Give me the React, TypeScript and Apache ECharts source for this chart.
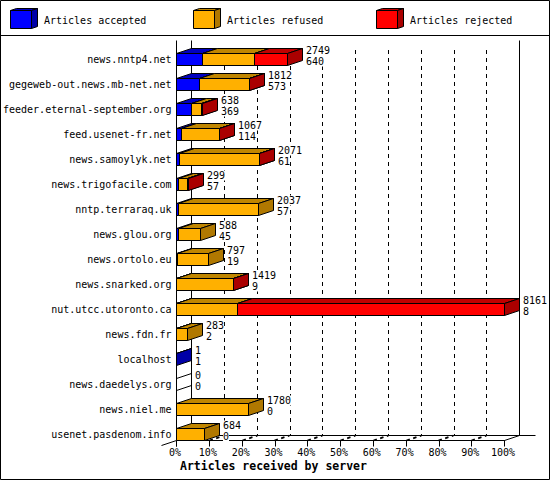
import React, { useEffect, useRef } from "react";
import * as echarts from "echarts";

const servers = [
  "news.nntp4.net", "gegeweb-out.news.mb-net.net", "feeder.eternal-september.org", "feed.usenet-fr.net",
  "news.samoylyk.net", "news.trigofacile.com", "nntp.terraraq.uk", "news.glou.org",
  "news.ortolo.eu", "news.snarked.org", "nut.utcc.utoronto.ca", "news.fdn.fr",
  "localhost", "news.daedelys.org", "news.niel.me", "usenet.pasdenom.info",
];
const totals = [2749, 1812, 638, 1067, 2071, 299, 2037, 588, 797, 1419, 8161, 283, 1, 0, 1780, 684];
const accepted = [640, 573, 369, 114, 61, 57, 57, 45, 19, 9, 8, 2, 1, 0, 0, 0];
const refused = [1288, 1234, 259, 945, 2000, 212, 1980, 543, 778, 1400, 1500, 281, 0, 0, 1780, 684];
const rejected = [821, 5, 10, 8, 10, 30, 0, 0, 0, 10, 6653, 0, 0, 0, 0, 0];
const percentTicks = [0, 10, 20, 30, 40, 50, 60, 70, 80, 90, 100];
const scaleMax = 8161;

const FONT = '"DejaVu Sans Mono", monospace';
const blue = { front: "#0000ff", top: "#0000c0", side: "#0000a8", name: "Articles accepted" };
const orange = { front: "#ffb000", top: "#c08600", side: "#b07800", name: "Articles refused" };
const red = { front: "#ff0000", top: "#c00000", side: "#aa0000", name: "Articles rejected" };

const DX = 15;
const DY = 5;
const HALF = 6;
const snap = (v: number) => Math.round(v - 0.5) + 0.5;
const pct = (v: number) => (v / scaleMax) * 100;

function barRender(colors: typeof blue) {
  return (_p: any, api: any) => {
    const row = api.value(1);
    const from = api.coord([api.value(0), row]);
    const to = api.coord([api.value(2), row]);
    const x0 = snap(from[0]);
    const x1 = snap(to[0]);
    const y = snap(from[1] - HALF);
    const b = y + HALF * 2;
    const ln = { stroke: "#000", lineWidth: 1 };
    const empty = api.value(3) === 1;
    const children: any[] = [];
    if (!empty) {
      children.push({ type: "polygon", shape: { points: [[x0, y], [x0 + DX, y - DY], [x1 + DX, y - DY], [x1, y]] }, style: { fill: colors.top, ...ln } });
    }
    children.push({
      type: "polygon",
      shape: { points: [[x1, y], [x1 + DX, y - DY], [x1 + DX, b - DY], [x1, b]] },
      style: { fill: empty ? "none" : colors.side, ...ln },
    });
    if (!empty) {
      children.push({ type: "rect", shape: { x: x0, y, width: x1 - x0, height: b - y }, style: { fill: colors.front, ...ln } });
    }
    return { type: "group", children };
  };
}

function segments(vals: number[], before: number[][]) {
  return vals
    .map((v, i) => {
      const start = before.reduce((s, a) => s + a[i], 0);
      const isEmptyRow = totals[i] === 0 && before.length === 0;
      return { value: [pct(start), i, pct(start + v), isEmptyRow ? 1 : 0], keep: v > 0 || isEmptyRow };
    })
    .filter((d) => d.keep)
    .map((d) => d.value);
}

function labelRender(_p: any, api: any) {
  const row = api.value(1);
  const p = api.coord([api.value(0), row]);
  const x = snap(p[0]) + DX + 3.5;
  const mk = (text: string, y: number) => ({
    type: "text",
    style: { text, x, y, fill: "#000", font: `10px ${FONT}`, align: "left", verticalAlign: "middle", backgroundColor: "#fff" },
  });
  return {
    type: "group",
    children: [mk(String(totals[row]), p[1] - 9), mk(String(accepted[row]), p[1] + 2)],
  };
}

function floorRender(_p: any, api: any) {
  const t = api.value(0);
  const x = snap(api.coord([t, 0])[0]);
  const end = t === 0 || t === 100;
  const y0 = 440.5;
  const children: any[] = [
    {
      type: "line",
      shape: { x1: t === 0 ? x - 15 : x, y1: t === 0 ? y0 + 5 : y0, x2: x + DX, y2: y0 - DY },
      style: { stroke: "#000", lineWidth: end ? 1 : 1.8, lineDash: end ? undefined : [3.5, 3.5] },
    },
  ];
  return { type: "group", children };
}

function swatch(x: number, colors: typeof blue): any[] {
  const l = { stroke: "#000", lineWidth: 1 };
  const r = x + 21;
  return [
    { type: "polygon", z: 3, shape: { points: [[x, 10.5], [x + 6, 8.5], [r + 6, 8.5], [r, 10.5]] }, style: { fill: colors.top, ...l } },
    { type: "polygon", z: 3, shape: { points: [[r, 10.5], [r + 6, 8.5], [r + 6, 26.5], [r, 28.5]] }, style: { fill: colors.side, ...l } },
    { type: "rect", z: 3, shape: { x, y: 10.5, width: 21, height: 18 }, style: { fill: colors.front, ...l } },
    { type: "text", z: 3, style: { text: colors.name, x: x + 33.5, y: 20, fill: "#000", font: `10px ${FONT}`, verticalAlign: "middle" } },
  ];
}

const wall = (x1: number, y1: number, x2: number, y2: number) => ({
  type: "line",
  z: 1,
  shape: { x1, y1, x2, y2 },
  style: { stroke: "#000", lineWidth: 1 },
});

export default function App() {
  const ref = useRef<HTMLDivElement>(null);
  useEffect(() => {
    document.body.style.margin = "0";
    const chart = echarts.init(ref.current!, undefined, { renderer: "svg" });
    const barSeries = (colors: typeof blue, data: number[][], z: number) => ({
      type: "custom",
      name: colors.name,
      coordinateSystem: "cartesian2d",
      xAxisIndex: 0,
      yAxisIndex: 0,
      clip: false,
      silent: true,
      z,
      encode: { x: [0, 2], y: 1 },
      data,
      renderItem: barRender(colors),
    });
    chart.setOption({
      animation: false,
      backgroundColor: "#fff",
      title: {
        text: "Articles received by server",
        left: 180,
        top: 460,
        padding: 0,
        textStyle: { fontFamily: FONT, fontWeight: "bold", fontSize: 11.5, color: "#000" },
      },
      grid: [
        { left: 176.5, top: 47, width: 328, height: 400 },
        { left: 191.5, top: 50, width: 328, height: 385.5 },
      ],
      xAxis: [
        {
          type: "value",
          gridIndex: 0,
          min: 0,
          max: 100,
          interval: 10,
          offset: -6.5,
          splitLine: { show: false },
          axisLine: { show: true, lineStyle: { color: "#000", width: 1 } },
          axisTick: { show: true, length: 6, lineStyle: { color: "#000" } },
          axisLabel: {
            show: true,
            margin: 7,
            color: "#000",
            fontFamily: FONT,
            fontSize: 10,
            showMinLabel: true,
            showMaxLabel: true,
            padding: [0, 3, 0, 0],
            formatter: (v: number) => `${v}%`,
          },
        },
        {
          type: "value",
          gridIndex: 1,
          min: 0,
          max: 100,
          interval: 10,
          axisLabel: { show: false },
          axisTick: { show: false },
          axisLine: { show: true, lineStyle: { color: "#000", width: 1 } },
          splitLine: { show: true, showMinLine: false, showMaxLine: false, lineStyle: { color: "#000", width: 1, type: [4, 4] } },
        },
      ],
      yAxis: [
        {
          type: "category",
          gridIndex: 0,
          inverse: true,
          data: servers,
          axisLine: { show: false },
          axisTick: { show: false },
          splitLine: { show: false },
          axisLabel: { interval: 0, margin: 5, color: "#000", fontFamily: FONT, fontSize: 10 },
        },
        { type: "value", gridIndex: 1, show: false, min: 0, max: 1 },
      ],
      graphic: {
        elements: [
          { type: "rect", z: 1, shape: { x: 0.5, y: 0.5, width: 549, height: 479 }, style: { fill: "none", stroke: "#000", lineWidth: 1 } },
          wall(0, 35.5, 550, 35.5),
          wall(176.5, 40.5, 176.5, 446.5),
          wall(191.5, 40.5, 191.5, 435.5),
          wall(519.5, 40.5, 519.5, 435.5),
          wall(519.5, 435.5, 535.5, 435.5),
          ...swatch(10.5, blue),
          ...swatch(193.5, orange),
          ...swatch(376.5, red),
        ],
      },
      series: [
        {
          type: "custom",
          name: "floor",
          coordinateSystem: "cartesian2d",
          xAxisIndex: 0,
          yAxisIndex: 0,
          clip: false,
          silent: true,
          z: 1,
          data: percentTicks.map((t) => [t, 0]),
          renderItem: floorRender,
        },
        barSeries(blue, segments(accepted, []), 3),
        barSeries(orange, segments(refused, [accepted]), 4),
        barSeries(red, segments(rejected, [accepted, refused]), 5),
        {
          type: "custom",
          name: "labels",
          coordinateSystem: "cartesian2d",
          xAxisIndex: 0,
          yAxisIndex: 0,
          clip: false,
          silent: true,
          z: 6,
          data: totals.map((t, i) => [pct(t), i]),
          renderItem: labelRender,
        },
      ],
    });
    return () => chart.dispose();
  }, []);
  return <div ref={ref} style={{ width: 550, height: 480, position: "fixed", left: 0, top: 0 }} />;
}
